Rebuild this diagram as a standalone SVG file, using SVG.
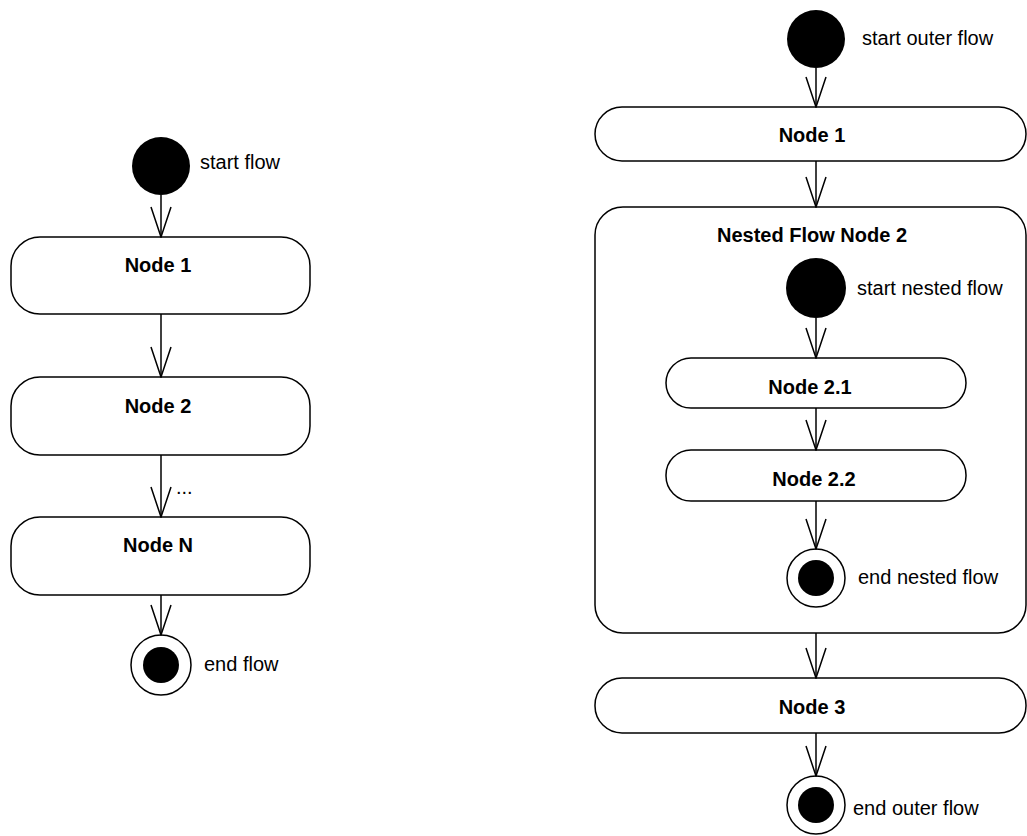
<svg xmlns="http://www.w3.org/2000/svg" width="1027" height="836" viewBox="0 0 1027 836">
<defs>
<style>
.n{fill:#fff;stroke:#000;stroke-width:1.5}
.t{font-family:"Liberation Sans",Arial,sans-serif;font-size:20px;fill:#000}
.b{font-weight:bold;text-anchor:middle}
.c{stroke:#000;stroke-width:1.5;fill:none}
.f{fill:#000}
</style>
<marker id="ah" viewBox="0 0 32 22" refX="31" refY="11" markerWidth="32" markerHeight="22" markerUnits="userSpaceOnUse" orient="auto">
<path d="M1,1 L31,11 L1,21" fill="none" stroke="#000" stroke-width="1.5"/>
</marker>
</defs>
<rect width="1027" height="836" fill="#fff"/>
<g id="left-start"><circle class="f" cx="161" cy="166" r="29"/><text class="t" x="200" y="169">start flow</text></g>
<g id="left-node1"><rect class="n" x="11" y="237" width="299" height="77" rx="29"/><text class="t b" x="158" y="272">Node 1</text></g>
<g id="left-node2"><rect class="n" x="11" y="377" width="299" height="78" rx="29"/><text class="t b" x="158" y="413">Node 2</text></g>
<g id="left-nodeN"><rect class="n" x="11" y="517" width="299" height="78" rx="29"/><text class="t b" x="158" y="552">Node N</text></g>
<g id="left-end"><circle class="n" cx="161" cy="665" r="30"/><circle class="f" cx="161" cy="665" r="18"/><text class="t" x="204" y="671">end flow</text></g>
<g id="outer-start"><circle class="f" cx="816" cy="39" r="29"/><text class="t" x="862" y="45">start outer flow</text></g>
<g id="outer-node1"><rect class="n" x="595" y="107" width="431" height="54" rx="27"/><text class="t b" x="812" y="142">Node 1</text></g>
<g id="nested-node2"><rect class="n" x="595" y="207" width="431" height="426" rx="28"/><text class="t b" x="812" y="242">Nested Flow Node 2</text>
<g id="nested-start"><circle class="f" cx="816" cy="288" r="30"/><text class="t" x="857" y="295">start nested flow</text></g>
<g id="node21"><rect class="n" x="666" y="358" width="300" height="50" rx="25"/><text class="t b" x="810" y="394">Node 2.1</text></g>
<g id="node22"><rect class="n" x="666" y="450" width="300" height="51" rx="25"/><text class="t b" x="814" y="486">Node 2.2</text></g>
<g id="nested-end"><circle class="n" cx="816" cy="578" r="29"/><circle class="f" cx="816" cy="578" r="18"/><text class="t" x="858" y="584">end nested flow</text></g>
</g>
<g id="outer-node3"><rect class="n" x="595" y="678" width="431" height="55" rx="27"/><text class="t b" x="812" y="714">Node 3</text></g>
<g id="outer-end"><circle class="n" cx="816" cy="805" r="29"/><circle class="f" cx="816" cy="805" r="18"/><text class="t" x="853" y="815">end outer flow</text></g>
<g id="connectors">
<line class="c" x1="161" y1="195" x2="161" y2="237" marker-end="url(#ah)"/>
<line class="c" x1="161" y1="314" x2="161" y2="377" marker-end="url(#ah)"/>
<line class="c" x1="161" y1="455" x2="161" y2="517" marker-end="url(#ah)"/>
<text class="t" x="176" y="494">...</text>
<line class="c" x1="161" y1="595" x2="161" y2="635" marker-end="url(#ah)"/>
<line class="c" x1="816" y1="68" x2="816" y2="107" marker-end="url(#ah)"/>
<line class="c" x1="816" y1="161" x2="816" y2="207" marker-end="url(#ah)"/>
<line class="c" x1="816" y1="318" x2="816" y2="358" marker-end="url(#ah)"/>
<line class="c" x1="816" y1="408" x2="816" y2="450" marker-end="url(#ah)"/>
<line class="c" x1="816" y1="501" x2="816" y2="549" marker-end="url(#ah)"/>
<line class="c" x1="816" y1="633" x2="816" y2="678" marker-end="url(#ah)"/>
<line class="c" x1="816" y1="733" x2="816" y2="776" marker-end="url(#ah)"/>
</g>
</svg>
